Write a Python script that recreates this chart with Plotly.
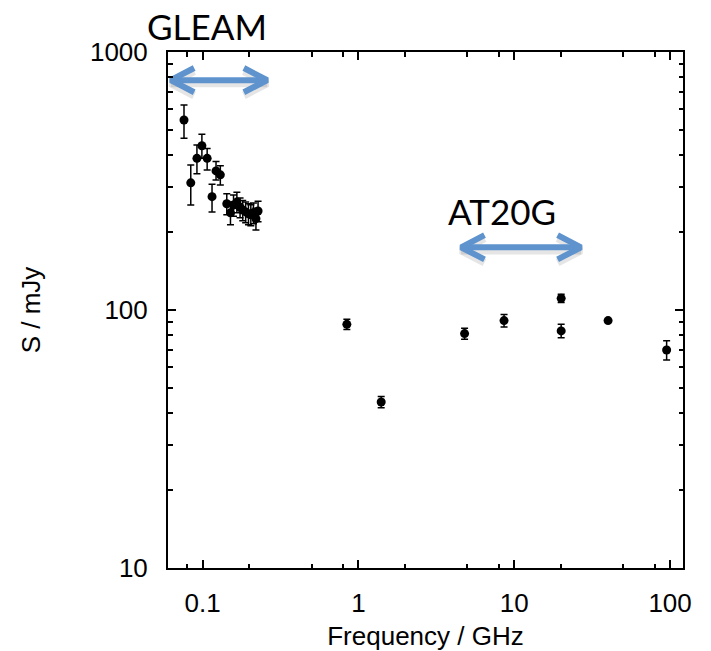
import numpy as np
import plotly.graph_objects as go

# ---- data (GHz, mJy) ----
freq_gleam = [0.076, 0.084, 0.092, 0.099, 0.107, 0.115, 0.122, 0.130, 0.143, 0.151,
              0.158, 0.166, 0.174, 0.181, 0.189, 0.197, 0.204, 0.212, 0.220, 0.227]
s_gleam = [545, 311, 387, 433, 387, 275, 346, 334, 258, 238,
           255, 262, 250, 244, 240, 236, 234, 238, 226, 242]
err_up_gleam = [78, 54, 49, 47, 36, 32, 30, 28, 24, 24, 24, 24, 22, 22, 22, 22, 22, 22, 22, 22]
err_dn_gleam = [82, 56, 50, 46, 38, 35, 27, 29, 24, 24, 24, 24, 22, 22, 22, 22, 22, 22, 22, 22]

freq_other = [0.843, 1.4, 4.8, 8.6, 20, 20, 40, 95]
s_other = [88, 44, 81, 91, 111, 83, 91, 70]
err_other = [4, 2.2, 4, 5, 4, 5, 0.8, 6]

# survey coverage arrows (GHz) and their flux level (mJy)
gleam_range = [0.0625, 0.26]
gleam_level = 778
at20g_range = [4.56, 26.8]
at20g_level = 175

x_tickvals = [0.1, 1, 10, 100]
x_ticktext = ["0.1", "1", "10", "100"]
x_minor = [0.08, 0.2, 0.5, 0.8, 2, 5, 8, 20, 50, 80]
y_tickvals = [10, 100, 1000]
y_ticktext = ["10", "100", "1000"]
y_minor = [m * d for d in (10, 100) for m in range(2, 10)]

freq_all = freq_gleam + freq_other
s_all = s_gleam + s_other
err_up = err_up_gleam + err_other
err_dn = err_dn_gleam + err_other

ARROW_COLOR = "#5E93CE"


def arrow_xy(rng, level, dx=0.15, dy=0.047):
    f0, f1 = rng
    l0, l1, ls = np.log10(f0), np.log10(f1), np.log10(level)
    xs = [f0, f1, None,
          10 ** (l0 + dx), f0, 10 ** (l0 + dx), None,
          10 ** (l1 - dx), f1, 10 ** (l1 - dx)]
    ys = [level, level, None,
          10 ** (ls + dy), level, 10 ** (ls - dy), None,
          10 ** (ls + dy), level, 10 ** (ls - dy)]
    return xs, ys


fig = go.Figure()

for rng, lvl in ((gleam_range, gleam_level), (at20g_range, at20g_level)):
    xs, ys = arrow_xy(rng, lvl)
    ys_sh = [None if v is None else v / 10 ** 0.012 for v in ys]
    fig.add_trace(go.Scatter(x=xs, y=ys_sh, mode="lines",
                             line=dict(color="rgba(0,0,0,0.10)", width=8),
                             hoverinfo="skip", showlegend=False))
    fig.add_trace(go.Scatter(x=xs, y=ys, mode="lines",
                             line=dict(color=ARROW_COLOR, width=6),
                             hoverinfo="skip", showlegend=False))

fig.add_trace(go.Scatter(
    x=freq_all, y=s_all, mode="markers",
    marker=dict(color="black", size=9),
    error_y=dict(type="data", symmetric=False, array=err_up, arrayminus=err_dn,
                 color="black", thickness=1.5, width=3.5),
    showlegend=False,
))

tickfont = dict(family="Liberation Sans, Arial, sans-serif", size=26, color="black")
titlefont = dict(family="Liberation Sans, Arial, sans-serif", size=26, color="black")
axis_common = dict(
    type="log", ticks="inside", ticklen=8, tickwidth=1.5, tickcolor="black",
    showline=True, linecolor="black", linewidth=2, mirror="allticks",
    showgrid=False, zeroline=False, tickfont=tickfont, automargin=False,
)

fig.update_layout(
    width=703, height=643,
    margin=dict(l=160, r=28, t=44, b=83),
    paper_bgcolor="white", plot_bgcolor="white",
    xaxis=dict(
        range=[np.log10(0.06), np.log10(121)],
        tickvals=x_tickvals, ticktext=x_ticktext,
        minor=dict(tickvals=x_minor, ticks="inside", ticklen=4.5, tickwidth=1.5,
                   tickcolor="black", showgrid=False),
        title=dict(text="Frequency / GHz", font=titlefont, standoff=12),
        ticklabelstandoff=11,
        **axis_common,
    ),
    yaxis=dict(
        range=[1, 3],
        tickvals=y_tickvals, ticktext=y_ticktext,
        minor=dict(tickvals=y_minor, ticks="inside", ticklen=4.5, tickwidth=1.5,
                   tickcolor="black", showgrid=False),
        title=dict(text="S / mJy", font=titlefont, standoff=42),
        ticklabelstandoff=13,
        **axis_common,
    ),
    annotations=[
        dict(text="GLEAM", x=-0.9705, y=1.0504, xref="x", yref="paper",
             showarrow=False, font=dict(family="Lato, Open Sans, sans-serif", size=35, color="black"),
             xanchor="center", yanchor="middle"),
        dict(text="AT20G", x=0.9205, y=2.3837, xref="x", yref="y",
             showarrow=False, font=dict(family="Lato, Open Sans, sans-serif", size=35, color="black"),
             xanchor="center", yanchor="middle"),
    ],
)

fig.write_html("out.html")
